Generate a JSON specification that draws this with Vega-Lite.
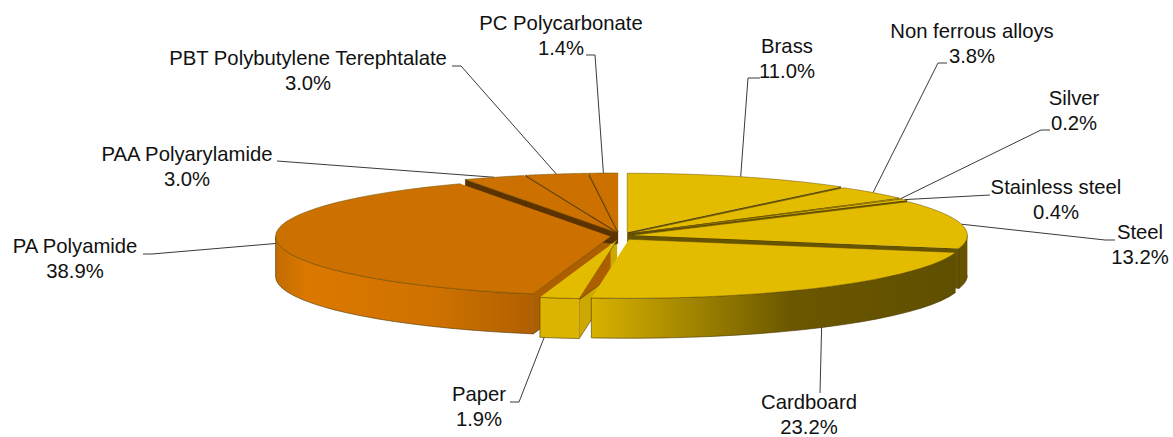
{
"$schema":"https://vega.github.io/schema/vega-lite/v6.json",
"width":1173,"height":437,"padding":0,"autosize":"none","background":"white",
"config":{"view":{"stroke":null}},
"resolve":{"scale":{"fill":"independent"}},
"params":[
{"name":"Rx","value":335},{"name":"Ry","value":59},{"name":"depth","value":40},
{"name":"labelX","value":[787,972,1074,1056,1140,809,479,75,187,308,561]},
{"name":"labelY","value":[47,32,98.5,187.5,232.5,403,394.5,246.5,154.5,58.5,23.5]},
{"name":"elbowX","value":[748,938,1041,990,1105,820,519,152,277,461,595]},
{"name":"elbowY","value":[78,63,130,195,240,393,402,254,161,66,55]},
{"name":"endX","value":[760,947,1050,990,1115,820,510,143,277,452,586]},
{"name":"endY","value":[78,63,130,195,240,393,402,254,161,66,55]}
],
"data":{"values":[
{"material":"Brass","share":11.0,"family":"Metal and paper"},
{"material":"Non ferrous alloys","share":3.8,"family":"Metal and paper"},
{"material":"Silver","share":0.2,"family":"Metal and paper"},
{"material":"Stainless steel","share":0.4,"family":"Metal and paper"},
{"material":"Steel","share":13.2,"family":"Metal and paper"},
{"material":"Cardboard","share":23.2,"family":"Metal and paper"},
{"material":"Paper","share":1.9,"family":"Metal and paper"},
{"material":"PA Polyamide","share":38.9,"family":"Polymer"},
{"material":"PAA Polyarylamide","share":3.0,"family":"Polymer"},
{"material":"PBT Polybutylene Terephtalate","share":3.0,"family":"Polymer"},
{"material":"PC Polycarbonate","share":1.4,"family":"Polymer"}
]},
"transform":[
{"window":[{"op":"sum","field":"share","as":"cum"},{"op":"row_number","as":"rank"}]},
{"calculate":"datum.cum/100","as":"end"},
{"calculate":"(datum.cum-datum.share)/100","as":"start"},
{"calculate":"(datum.start+datum.end)/2","as":"mid"},
{"calculate":"sin(2*PI*datum.mid)","as":"sm"},
{"calculate":"cos(2*PI*datum.mid)","as":"cm"},
{"calculate":"621.5+(datum.sm>=0?1:-1)*(3+8*abs(datum.sm))","as":"cx"},
{"calculate":"236-4*datum.cm","as":"cy"}
],
"encoding":{
"x":{"type":"quantitative","scale":{"domain":[0,1173],"nice":false,"zero":false},"axis":null},
"y":{"type":"quantitative","scale":{"domain":[437,0],"nice":false,"zero":false},"axis":null}
},
"layer":[
{
"transform":[
{"calculate":"[0,1,2]","as":"k"},{"flatten":["k"]},
{"calculate":"datum.k==0?datum.cx+Rx*datum.sm:datum.k==1?elbowX[datum.rank-1]:endX[datum.rank-1]","as":"px"},
{"calculate":"datum.k==0?datum.cy-Ry*datum.cm:datum.k==1?elbowY[datum.rank-1]:endY[datum.rank-1]","as":"py"}
],
"mark":{"type":"line","stroke":"#3a3a3a","strokeWidth":1,"interpolate":"linear"},
"encoding":{"x":{"field":"px","type":"quantitative"},"y":{"field":"py","type":"quantitative"},"detail":{"field":"material"},"order":{"field":"k","type":"quantitative"}}
},
{
"transform":[
{"filter":"datum.start>=0.5||datum.end<=0.5"},
{"calculate":"datum.start>=0.5?datum.start:datum.end","as":"f"},
{"calculate":"datum.family+(datum.start>=0.5&&datum.start<0.75?' lit':' dark')","as":"tone"},
{"calculate":"[0,1,2,3]","as":"k"},{"flatten":["k"]},
{"calculate":"datum.cx+((datum.k==1||datum.k==2)?Rx*sin(2*PI*datum.f):0)","as":"px"},
{"calculate":"datum.cy+((datum.k==1||datum.k==2)?-Ry*cos(2*PI*datum.f):0)+(datum.k==2?depth:datum.k==3?(datum.cm>0?12:depth):0)","as":"py"}
],
"mark":{"type":"line","strokeWidth":0.5,"stroke":"#3a2a00","interpolate":"linear"},
"encoding":{"x":{"field":"px","type":"quantitative"},"y":{"field":"py","type":"quantitative"},"detail":{"field":"material"},"order":{"field":"k","type":"quantitative"},
"fill":{"field":"tone","type":"nominal","legend":null,"scale":{"domain":["Metal and paper dark","Metal and paper lit","Polymer dark","Polymer lit"],"range":["#665400","#CCA800","#5C3300","#AD5F00"]}}}
},
{
"transform":[
{"filter":"datum.end>0.25&&datum.start<0.75"},
{"calculate":"max(datum.start,0.25)","as":"a0"},
{"calculate":"min(datum.end,0.75)","as":"a1"},
{"calculate":"[0,0.05,0.1,0.15,0.2,0.25,0.3,0.35,0.4,0.45,0.5,0.55,0.6,0.65,0.7,0.75,0.8,0.85,0.9,0.95,1,1.0001,1.05,1.1,1.15,1.2,1.25,1.3,1.35,1.4,1.45,1.5,1.55,1.6,1.65,1.7,1.75,1.8,1.85,1.9,1.95,2]","as":"u"},
{"flatten":["u"]},
{"calculate":"datum.a0+(datum.a1-datum.a0)*(datum.u<=1?datum.u:2-datum.u)","as":"f"},
{"calculate":"datum.cx+Rx*sin(2*PI*datum.f)","as":"px"},
{"calculate":"datum.cy-Ry*cos(2*PI*datum.f)+(datum.u>1?depth:0)","as":"py"}
],
"encoding":{"x":{"field":"px","type":"quantitative"},"y":{"field":"py","type":"quantitative"},"detail":{"field":"material"},"order":{"field":"u","type":"quantitative"}},
"layer":[
{"transform":[{"filter":"datum.material=='Steel'"}],"mark":{"type":"line","strokeWidth":0.6,"stroke":"#4a3500","interpolate":"linear","fill":"#665400"}},
{"transform":[{"filter":"datum.material=='Paper'"}],"mark":{"type":"line","strokeWidth":0.6,"stroke":"#4a3500","interpolate":"linear","fill":"#DAB400"}},
{"transform":[{"filter":"datum.material=='Cardboard'"}],"mark":{"type":"line","strokeWidth":0.6,"stroke":"#4a3500","interpolate":"linear","fill":{"gradient":"linear","x1":0,"y1":0,"x2":1,"y2":0,"stops":[{"offset":0,"color":"#D8B200"},{"offset":0.55,"color":"#6B5700"},{"offset":1,"color":"#5F4F00"}]}}},
{"transform":[{"filter":"datum.material=='PA Polyamide'"}],"mark":{"type":"line","strokeWidth":0.6,"stroke":"#4a3500","interpolate":"linear","fill":{"gradient":"linear","x1":0,"y1":0,"x2":1,"y2":0,"stops":[{"offset":0,"color":"#C26C00"},{"offset":0.12,"color":"#DB7800"},{"offset":0.6,"color":"#D07200"},{"offset":1,"color":"#B06000"}]}}}
]
},
{
"transform":[
{"calculate":"[-1,0,0.025,0.05,0.075,0.1,0.125,0.15,0.175,0.2,0.225,0.25,0.275,0.3,0.325,0.35,0.375,0.4,0.425,0.45,0.475,0.5,0.525,0.55,0.575,0.6,0.625,0.65,0.675,0.7,0.725,0.75,0.775,0.8,0.825,0.85,0.875,0.9,0.925,0.95,0.975,1]","as":"t"},
{"flatten":["t"]},
{"calculate":"datum.start+(datum.end-datum.start)*datum.t","as":"f"},
{"calculate":"datum.cx+(datum.t<0?0:Rx*sin(2*PI*datum.f))","as":"px"},
{"calculate":"datum.cy+(datum.t<0?0:-Ry*cos(2*PI*datum.f))","as":"py"}
],
"mark":{"type":"line","strokeWidth":0.5,"stroke":"#6b5000","interpolate":"linear"},
"encoding":{"x":{"field":"px","type":"quantitative"},"y":{"field":"py","type":"quantitative"},"detail":{"field":"material"},"order":{"field":"t","type":"quantitative"},
"fill":{"field":"family","type":"nominal","legend":null,"scale":{"domain":["Metal and paper","Polymer"],"range":["#E3BC00","#CC7000"]}}}
},
{
"transform":[
{"calculate":"datum.material+'\\n'+format(datum.share,'.1f')+'%'","as":"label"},
{"calculate":"labelX[datum.rank-1]","as":"lx"},
{"calculate":"labelY[datum.rank-1]","as":"ly"}
],
"mark":{"type":"text","font":"Liberation Sans","fontSize":20.3,"lineBreak":"\n","lineHeight":25,"align":"center","baseline":"middle","color":"#111111"},
"encoding":{"x":{"field":"lx","type":"quantitative"},"y":{"field":"ly","type":"quantitative"},"text":{"field":"label"}}
}
]
}
